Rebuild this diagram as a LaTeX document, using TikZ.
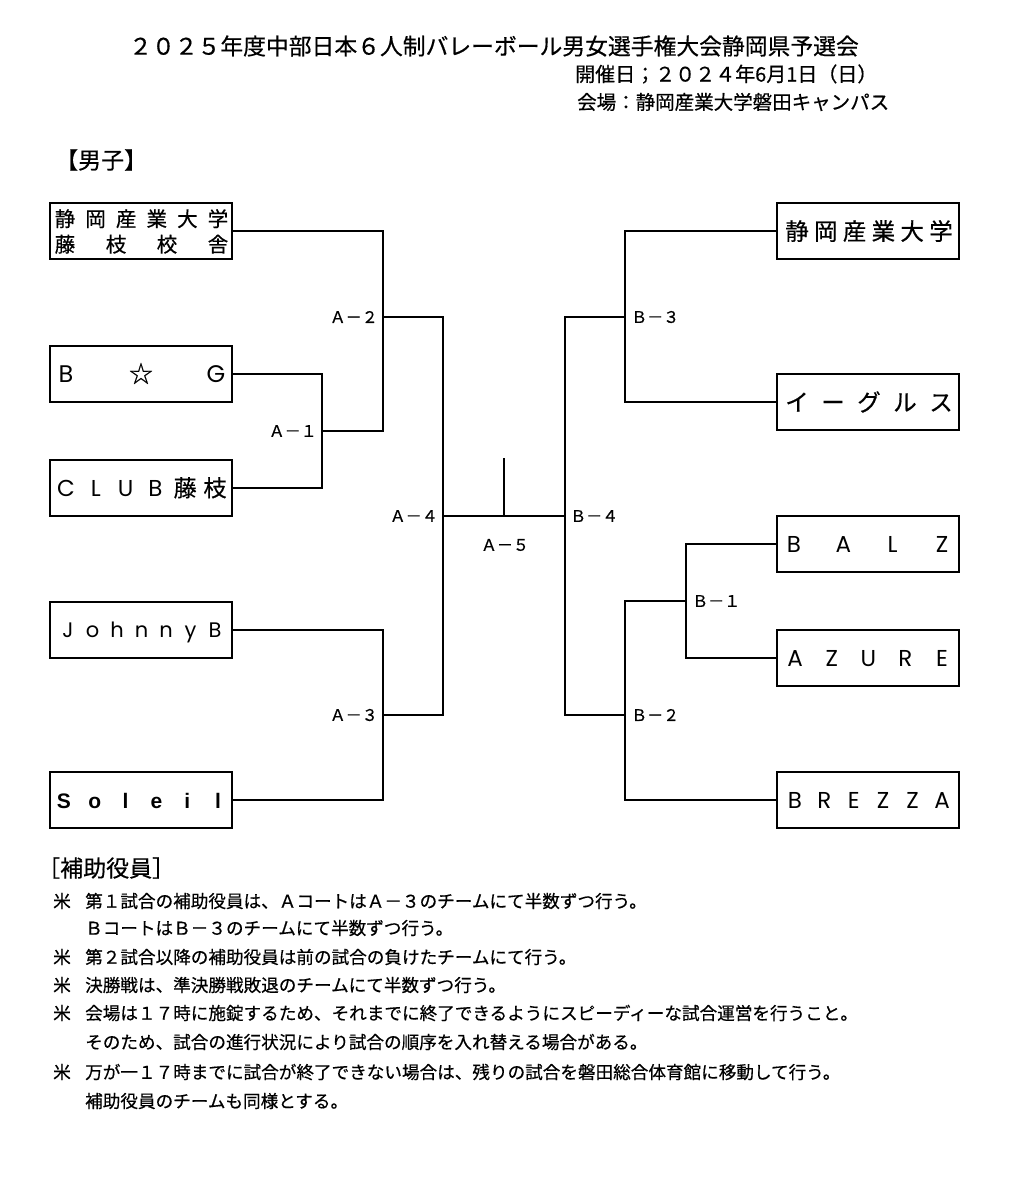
\documentclass[tikz,border=0pt]{standalone}
\usepackage{fontspec}
\setmainfont{Noto Sans CJK JP}[FakeBold=0.5]
\newfontfamily\geo{Poppins}
\newfontfamily\arialb{Liberation Sans Bold}
\newcommand\spreadtext[7]{%
  \foreach \ch [count=\k] in {#6}
    \node[chr, font=#7] (#1-\k) at ({#2+(\k-1)*(#3-#2)/(#5-1)}, #4) {\ch};}
\begin{document}
\begin{tikzpicture}[x=1pt,y=-1pt,
  teambox/.style={draw, line width=1.8pt, minimum width=182pt, minimum height=56pt, inner sep=0pt},
  bline/.style={line width=1.5pt},
  chr/.style={inner sep=0pt, anchor=base},
  lab/.style={inner sep=0pt, font=\fontsize{16}{16}\selectfont},
  note/.style={inner sep=0pt, anchor=west, font=\fontsize{17.6}{18}\selectfont}]
\useasboundingbox (0,0) rectangle (1009,1200);
% header
\node[inner sep=0pt, font=\fontsize{22.8}{23}\selectfont] (title) at (494,46) {２０２５年度中部日本６人制バレーボール男女選手権大会静岡県予選会};
\node[inner sep=0pt, anchor=west, font=\fontsize{20}{20}\selectfont] (date) at (575,74) {開催日；２０２４年6月1日（日）};
\node[inner sep=0pt, anchor=west, font=\fontsize{19.5}{20}\selectfont] (venue) at (577,102) {会場：静岡産業大学磐田キャンパス};
\node[inner sep=0pt, anchor=west, font=\fontsize{23}{23}\selectfont] (men) at (55,160) {【男子】};
% left boxes
\node[teambox] (L1) at (141,231) {};
\node[teambox] (L2) at (141,374) {};
\node[teambox] (L3) at (141,488) {};
\node[teambox] (L4) at (141,630) {};
\node[teambox] (L5) at (141,800) {};
% right boxes
\node[teambox] (R1) at (868,231) {};
\node[teambox] (R2) at (868,402) {};
\node[teambox] (R3) at (868,544) {};
\node[teambox] (R4) at (868,658) {};
\node[teambox] (R5) at (868,800) {};
% box texts (y = baseline)
\spreadtext{t1a}{65}{218}{226.5}{6}{静,岡,産,業,大,学}{\fontsize{20.5}{20}\selectfont}
\spreadtext{t1b}{65}{218}{252}{4}{藤,枝,校,舎}{\fontsize{20.5}{20}\selectfont}
\spreadtext{t2}{66}{216}{382.5}{3}{{\geo B},☆,{\geo G}}{\fontsize{24}{24}\selectfont}
\spreadtext{t3}{66}{215}{496.5}{6}{{\geo C},{\geo L},{\geo U},{\geo B},藤,枝}{\fontsize{23}{23}\selectfont}
\spreadtext{t4}{68}{215}{637.5}{7}{J,o,h,n,n,y,B}{\fontsize{21}{21}\geo}
\spreadtext{t5}{64}{218}{808}{6}{S,o,l,e,i,l}{\fontsize{21}{21}\arialb}
\spreadtext{r1}{797}{941}{240}{6}{静,岡,産,業,大,学}{\fontsize{23.5}{24}\selectfont}
\spreadtext{r2}{797}{941}{411}{5}{イ,ー,グ,ル,ス}{\fontsize{23.5}{24}\selectfont}
\spreadtext{r3}{794}{942}{552.5}{4}{B,A,L,Z}{\fontsize{23}{23}\geo}
\spreadtext{r4}{795}{942}{666.5}{5}{A,Z,U,R,E}{\fontsize{23}{23}\geo}
\spreadtext{r5}{795}{942}{808.5}{6}{B,R,E,Z,Z,A}{\fontsize{23}{23}\geo}
% bracket coordinates
\coordinate (a1) at (322,431);
\coordinate (a2) at (383,317);
\coordinate (a3) at (383,715);
\coordinate (a4) at (443,516);
\coordinate (a5) at (504,516);
\coordinate (a5top) at (504,458);
\coordinate (b4) at (565,516);
\coordinate (b3) at (625,317);
\coordinate (b1) at (686,601);
\coordinate (b2) at (625,715);
% left lines
\draw[bline] (L1.east) -| (a1 -| a2) -- (a1);
\draw[bline] (L2.east) -| (a1) |- (L3.east);
\draw[bline] (a2) -| (a3 -| a4) -- (a3);
\draw[bline] (L4.east) -| (a3) |- (L5.east);
\draw[bline] (a4) -- (b4);
\draw[bline] (a5) -- (a5top);
% right lines
\draw[bline] (b3) -| (b2 -| b4) -- (b2);
\draw[bline] (R1.west) -| (b3) |- (R2.west);
\draw[bline] (R3.west) -| (b1) |- (R4.west);
\draw[bline] (b1) -| (R5.west -| b2) -- (R5.west);
% match labels
\node[lab, anchor=east] (lA2) at (378,317) {Ａ－２};
\node[lab, anchor=east] (lA1) at (317,431) {Ａ－１};
\node[lab, anchor=east] (lA4) at (438,516) {Ａ－４};
\node[lab, anchor=east] (lA3) at (378,715) {Ａ－３};
\node[lab] (lA5) at (505,545) {Ａ－５};
\node[lab, anchor=west] (lB4) at (570,516) {Ｂ－４};
\node[lab, anchor=west] (lB3) at (631,317) {Ｂ－３};
\node[lab, anchor=west] (lB1) at (692,601) {Ｂ－１};
\node[lab, anchor=west] (lB2) at (631,715) {Ｂ－２};
% notes
\node[inner sep=0pt, anchor=west, font=\fontsize{23}{23}\selectfont] (nh) at (37,868) {［補助役員］};
\node[note] (m1) at (53,901) {米};
\node[note] (n1) at (85,901) {第１試合の補助役員は、ＡコートはＡ－３のチームにて半数ずつ行う。};
\node[note] (n1b) at (85,928) {ＢコートはＢ－３のチームにて半数ずつ行う。};
\node[note] (m2) at (53,957) {米};
\node[note] (n2) at (85,957) {第２試合以降の補助役員は前の試合の負けたチームにて行う。};
\node[note] (m3) at (53,985) {米};
\node[note] (n3) at (85,985) {決勝戦は、準決勝戦敗退のチームにて半数ずつ行う。};
\node[note] (m4) at (53,1013) {米};
\node[note] (n4) at (85,1013) {会場は１７時に施錠するため、それまでに終了できるようにスピーディーな試合運営を行うこと。};
\node[note] (n4b) at (85,1042) {そのため、試合の進行状況により試合の順序を入れ替える場合がある。};
\node[note] (m5) at (53,1072) {米};
\node[note] (n5) at (85,1072) {万が一１７時までに試合が終了できない場合は、残りの試合を磐田総合体育館に移動して行う。};
\node[note] (n5b) at (85,1101) {補助役員のチームも同様とする。};
\end{tikzpicture}
\end{document}
